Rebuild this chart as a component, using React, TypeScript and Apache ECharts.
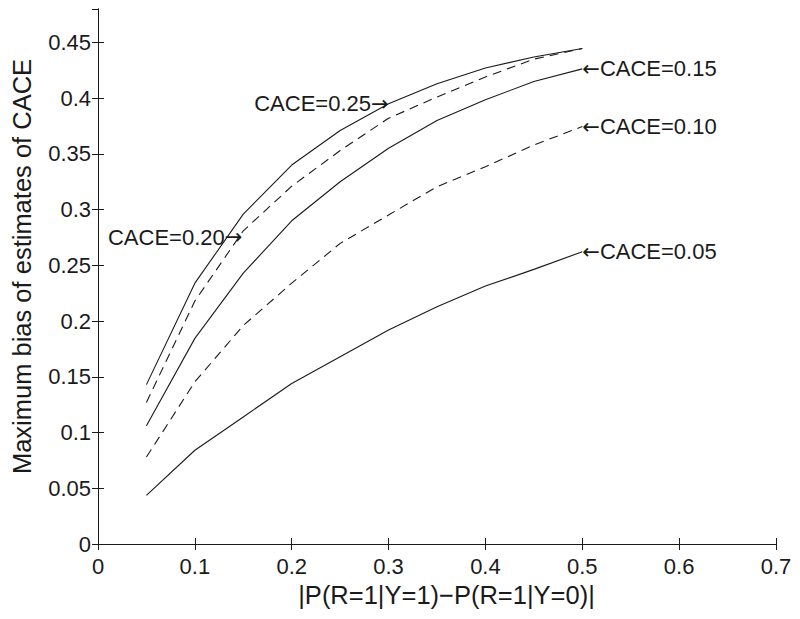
import React, { useEffect, useRef } from "react";
import * as echarts from "echarts";

const xValues = [0.05, 0.1, 0.15, 0.2, 0.25, 0.3, 0.35, 0.4, 0.45, 0.5];
const cace025 = [0.143, 0.234, 0.296, 0.34, 0.371, 0.395, 0.413, 0.427, 0.437, 0.4445];
const cace020 = [0.127, 0.218, 0.281, 0.321, 0.353, 0.382, 0.401, 0.419, 0.435, 0.4445];
const cace015 = [0.106, 0.1845, 0.243, 0.29, 0.325, 0.355, 0.38, 0.3985, 0.415, 0.4263];
const cace010 = [0.078, 0.1455, 0.196, 0.234, 0.2697, 0.2952, 0.3206, 0.3385, 0.358, 0.3745];
const cace005 = [0.0437, 0.0841, 0.114, 0.144, 0.168, 0.192, 0.2128, 0.2314, 0.2464, 0.2622];

const xTicks = ["0", "0.1", "0.2", "0.3", "0.4", "0.5", "0.6", "0.7"];
const yTicks = ["0", "0.05", "0.1", "0.15", "0.2", "0.25", "0.3", "0.35", "0.4", "0.45"];

const FONT = "Liberation Sans, Arial, Helvetica, sans-serif";
const INK = "#1a1a1a";

function pairs(ys: number[]) {
  return xValues.map((x, i) => [x, ys[i]]);
}

function note(coord: number[], text: string, side: "left" | "right") {
  const formatted = side === "right" ? `{a|←}${text}` : `${text}{a|→}`;
  return {
    symbol: "circle",
    symbolSize: 0,
    silent: true,
    data: [
      {
        coord,
        label: {
          show: true,
          position: side,
          distance: 0,
          formatter: formatted,
          color: INK,
          fontFamily: FONT,
          fontSize: 22,
          verticalAlign: "middle",
          rich: {
            a: { fontFamily: "DejaVu Sans", fontSize: 21, color: INK, verticalAlign: "middle" },
          },
        },
      },
    ],
  };
}

export default function App() {
  const ref = useRef<HTMLDivElement>(null);
  useEffect(() => {
    document.body.style.margin = "0";
    if (!ref.current) return;
    const chart = echarts.init(ref.current, null, { renderer: "svg" });
    const axisCommon = {
      axisLine: { show: true, lineStyle: { color: INK, width: 1 } },
      axisTick: { show: true, inside: true, length: 6, lineStyle: { color: INK } },
      splitLine: { show: false },
    };
    const lineStyleSolid = { color: INK, width: 1.1, type: "solid" };
    const lineStyleDashed = { color: INK, width: 1.1, type: [9, 6] };
    chart.setOption({
      animation: false,
      backgroundColor: "#ffffff",
      grid: { left: 98, right: 24, top: 9, bottom: 75, containLabel: false },
      xAxis: [
        {
          type: "value",
          min: 0,
          max: 0.7,
          interval: 0.1,
          ...axisCommon,
          axisLabel: {
            color: INK,
            fontFamily: FONT,
            fontSize: 22,
            margin: 11,
            formatter: (v: number) => xTicks[Math.round(v * 10)] ?? "",
          },
          name: "|P(R=1|Y=1)−P(R=1|Y=0)|",
          nameLocation: "middle",
          nameGap: 36,
          nameTextStyle: { color: INK, fontFamily: FONT, fontSize: 25.5, padding: [0, 0, 0, 19] },
        },
        {
          type: "value",
          position: "top",
          min: 0,
          max: 0.7,
          interval: 0.1,
          ...axisCommon,
          axisLabel: { show: false },
        },
      ],
      yAxis: [
        {
          type: "value",
          min: 0,
          max: 0.48,
          interval: 0.05,
          ...axisCommon,
          axisLabel: {
            color: INK,
            fontFamily: FONT,
            fontSize: 22,
            margin: 7,
            showMaxLabel: false,
            formatter: (v: number) => {
              const k = Math.round(v * 20);
              return Math.abs(v * 20 - k) < 1e-6 ? yTicks[k] ?? "" : "";
            },
          },
          name: "Maximum bias of estimates of CACE",
          nameLocation: "middle",
          nameGap: 63,
          nameTextStyle: { color: INK, fontFamily: FONT, fontSize: 25.5, padding: [0, 0, 0, 20] },
        },
        {
          type: "value",
          position: "right",
          min: 0,
          max: 0.48,
          interval: 0.05,
          ...axisCommon,
          axisLabel: { show: false },
        },
      ],
      series: [
        {
          name: "CACE=0.25",
          type: "line",
          data: pairs(cace025),
          showSymbol: false,
          lineStyle: lineStyleSolid,
          markPoint: note([0.3, 0.395], "CACE=0.25", "left"),
        },
        {
          name: "CACE=0.20",
          type: "line",
          data: pairs(cace020),
          showSymbol: false,
          lineStyle: lineStyleDashed,
          markPoint: note([0.149, 0.275], "CACE=0.20", "left"),
        },
        {
          name: "CACE=0.15",
          type: "line",
          data: pairs(cace015),
          showSymbol: false,
          lineStyle: lineStyleSolid,
          markPoint: note([0.5, cace015[9]], "CACE=0.15", "right"),
        },
        {
          name: "CACE=0.10",
          type: "line",
          data: pairs(cace010),
          showSymbol: false,
          lineStyle: lineStyleDashed,
          markPoint: note([0.5, cace010[9]], "CACE=0.10", "right"),
        },
        {
          name: "CACE=0.05",
          type: "line",
          data: pairs(cace005),
          showSymbol: false,
          lineStyle: lineStyleSolid,
          markPoint: note([0.5, cace005[9]], "CACE=0.05", "right"),
        },
      ],
    });
    return () => chart.dispose();
  }, []);
  return <div ref={ref} style={{ width: 800, height: 619 }} />;
}
